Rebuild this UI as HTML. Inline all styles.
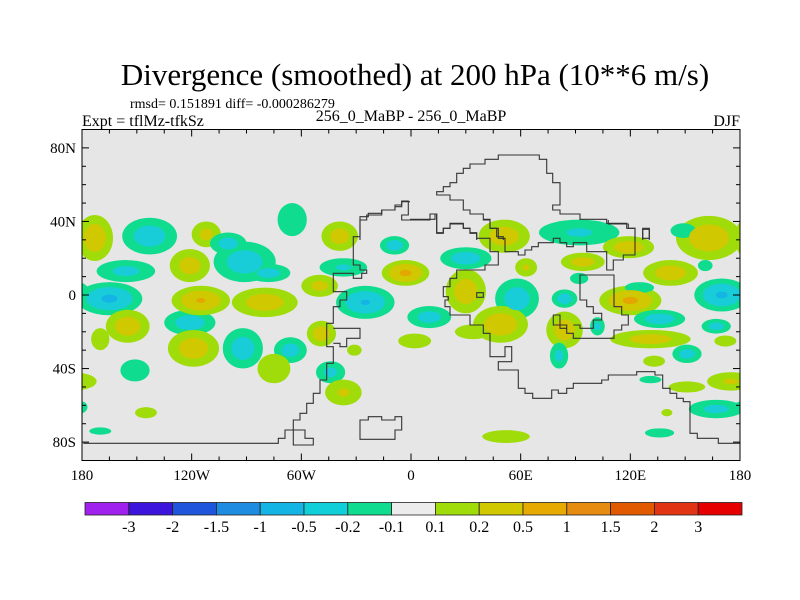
<!DOCTYPE html>
<html><head><meta charset="utf-8">
<style>
html,body{margin:0;padding:0;background:#fff;}
svg{display:block;font-family:"Liberation Serif",serif;}
</style></head>
<body>
<svg id="chart" width="800" height="600" viewBox="0 0 800 600">
<defs><clipPath id="plotclip"><rect x="82" y="129.5" width="658" height="331"/></clipPath></defs>
<text x="415" y="85" text-anchor="middle" font-size="31" fill="#000">Divergence (smoothed) at 200 hPa (10**6 m/s)</text>
<text x="130" y="108" font-size="14">rmsd= 0.151891 diff= -0.000286279</text>
<text x="82" y="126" font-size="16">Expt = tflMz-tfkSz</text>
<text x="411" y="121" text-anchor="middle" font-size="16">256_0_MaBP - 256_0_MaBP</text>
<text x="740" y="126" text-anchor="end" font-size="16">DJF</text>
<rect x="82" y="129.5" width="658" height="331" fill="#e6e6e6"/>
<g id="fills" clip-path="url(#plotclip)"></g>
<g id="coast" clip-path="url(#plotclip)" fill="none" stroke="#333" stroke-width="1.1"></g>
<rect x="82" y="129.5" width="658" height="331" fill="none" stroke="#000" stroke-width="1"/>
<g id="ticks" stroke="#000" stroke-width="1"></g>
<g id="labels" font-size="15"></g>
<g id="cbar"></g>
</svg>
<script>
// blob data: centre lon/lat, radius in degrees (0.1 contour), peak value
const blobLon  = [-173,-143,-112,-121,-91,-65,-156,-165,-121,-115,-80,-50,-155,-170,-119,-92,-66,-75,-49,-44,-37,-151,-145,-170,-39,-37,-25,-3,-9,2,-31,51,92,119,30,94,63,92,30,58,84,120,125,136,49,10,34,84,102,131,172,81,151,133,167,170,163,142,149,161,175,151,167,131,136,140,52,-180,-78,-100];
const blobLat  = [31,32,33,16,18,41,13,-2,-15,-3,-4,5,-17,-24,-29,-29,-30,-40,-21,-42,-53,-41,-64,-74,32,15,-4,12,27,-25,-30,32,34,26,20,18,15,9,2,-2,-2,-3,4,-13,-16,-12,-20,-19,-17,-24,-25,-33,-32,-36,-17,0,31,12,35,16,-47,-50,-62,-46,-75,-64,-77,-61,12,28];
const blobRLon = [10,15,8,11,17,8,16,18,14,16,18,10,12,5,14,11,9,9,8,8,10,8,6,6,10,13,16,13,8,9,4,14,22,14,14,12,6,5,11,12,7,17,8,14,15,12,10,10,4,22,6,5,8,6,8,15,18,15,7,4,13,10,15,6,8,3,13,3,12,10];
const blobRLat = [12.5,10,7,9,11,9,6,9,7,8,8,6,9,6,10,11,7,8,7,6,7,6,3,2,8,5,9,7,5,4,3,9,7,6,6,5,5,3,12,11,5,8,3,5,10,6,4,10,5,5,3,7,5,3,4,9,12,7,4,3,5,3,5,2,2.5,2,3.5,3,5,6];
const blobPeak = [0.45,-0.4,0.3,0.35,-0.4,-0.2,-0.3,-0.7,-0.4,0.6,0.4,0.3,0.4,0.15,0.4,-0.4,-0.35,0.18,0.4,-0.3,0.25,-0.2,0.15,-0.15,0.35,-0.25,-0.6,0.7,-0.4,0.15,0.15,0.4,-0.25,0.4,-0.4,0.35,0.25,-0.2,0.4,-0.4,-0.4,0.7,-0.2,-0.4,0.45,-0.35,0.15,0.4,-0.3,0.35,0.15,-0.3,-0.35,0.15,-0.35,-0.65,0.45,0.4,-0.2,-0.2,0.25,0.2,-0.3,-0.2,-0.2,0.15,0.2,-0.2,-0.35,-0.35];
// colour levels
const levelLabels = ["-3","-2","-1.5","-1","-0.5","-0.2","-0.1","0.1","0.2","0.5","1","1.5","2","3"];
const levelColors = ["#a020ee","#3c14dc","#1e55dc","#1e8ce0","#14b4e4","#10cfd8","#10dc90","#ececec","#a0dc0a","#d2c800","#e6aa00","#e68c10","#e25a00","#e03414","#e60000"];
const posThresh = [0.1,0.2,0.5,1];
const posColor = ["#a0dc0a","#d0c800","#e4a600","#e68c10"];
const negColor = ["#10dc90","#18cdd8","#14b4e4","#1e8ce0"];

const NS="http://www.w3.org/2000/svg";
const X0=82,X1=740,Y0=129.5,Y1=460.5;
const xs=lon=>X0+(lon+180)/360*(X1-X0);
const ys=lat=>Y0+(90-lat)/180*(Y1-Y0);
const pxLon=(X1-X0)/360, pxLat=(Y1-Y0)/180;
function mk(tag,attrs,parent){const e=document.createElementNS(NS,tag);for(const k in attrs)e.setAttribute(k,attrs[k]);parent.appendChild(e);return e;}

const fills=document.getElementById('fills');
for(let li=0;li<posThresh.length;li++){
  const t=posThresh[li];
  for(let i=0;i<blobLon.length;i++){
    const v=Math.abs(blobPeak[i]);
    if(v<=t) continue;
    const f=Math.pow(Math.log(v/t)/Math.log(v/0.1),0.8);
    const col=blobPeak[i]>0?posColor[li]:negColor[li];
    for(const sh of [-360,0,360]){
      const cx=xs(blobLon[i]+sh);
      if(cx<X0-100||cx>X1+100) continue;
      const e=mk('ellipse',{cx:cx,cy:ys(blobLat[i]),rx:blobRLon[i]*pxLon*f,ry:blobRLat[i]*pxLat*f,fill:col},fills);
      
      
    }
  }
}

// coastlines (traced in zoomed coordinates: orig = ox + zx/3, oy + zy/3)
const coast=document.getElementById('coast');
function line(ox,oy,pts,closed){
  const a=pts.split(/\s+/).map(p=>{const [x,y]=p.split(',').map(Number);return (ox+x/3).toFixed(1)+','+(oy+y/3).toFixed(1);});
  const e=mk(closed?'polygon':'polyline',{points:a.join(' ')},coast);
  
  
}
line(80,200,"990,5 965,5 965,20 945,20 945,30 905,30 905,40 865,40 865,50 840,50 840,110 820,110 820,195 840,195 840,210 860,210 860,220 845,220 845,235 820,235 820,220 760,220 760,275 800,275 800,300 780,300 780,320 760,320 760,370 740,370 740,440 760,440 760,490 740,490 740,540 720,540 720,580 700,580 700,610 680,610 680,640 660,640 660,660 640,660 640,690 615,690 615,715 595,715 595,730 10,730");
line(80,200,"760,385 840,385 840,415 800,415 800,440 780,440 780,430 760,430",false);
line(80,200,"615,690 675,690 675,715 700,715 700,735 640,735 640,690",false);
line(80,200,"840,660 865,660 865,650 905,650 905,660 945,660 945,650 965,650 965,690 945,690 945,718 840,718",true);
line(330,140,"90,300 90,240 110,240 110,225 155,225 155,210 195,210 195,195 215,195 215,183 235,183 235,225 215,225 215,240 300,240 300,222 320,222 320,278 340,278 340,265 360,265 360,250 400,250 400,265 420,265 420,278 440,278 440,300");
line(330,140,"520,300 520,290 500,290 500,265 480,265 480,240 460,240 460,222 420,222 420,210 400,210 400,180 360,180 360,165 320,165 320,155 340,155 340,140 360,140 360,128 380,128 380,100 400,100 400,85 420,85 420,72 465,72 465,58 505,58 505,45 628,45 628,58 650,58 650,100 668,100 668,128 690,128 690,195 668,195 668,210 690,210 690,222 750,222 750,238 830,238 830,250 890,250 890,265 915,265 915,300");
line(330,140,"938,300 938,265 958,265 958,300",false);
line(410,200,"0,58 75,58 75,42 80,42 80,100 100,100 100,85 120,85 120,72 160,72 160,85 180,85 180,100 200,100 200,115 240,115 240,155 265,155 265,195 225,195 225,210 140,210 140,235 120,235 120,260 100,260 100,290 115,290 115,300 105,300 105,320 120,320 120,345 180,345 180,375 220,375 220,400 240,400 240,470 285,470 285,440 305,440 305,485 265,485 265,510 325,510 325,565 345,565 345,580 368,580 368,595 425,595 425,570 445,570 445,580 470,580 470,565 490,565 490,550 575,550 575,540 595,540 595,525 680,525 680,515 735,515 735,525 758,525 758,565 780,565 780,580 800,580 800,595 820,595 820,605 840,605 840,700 862,700 862,715 925,715 925,730 999,730");
line(410,200,"220,58 240,58 240,85 265,85 265,115 285,115 285,155 325,155 325,165 345,165 345,150 365,150 365,140 385,140 385,128 430,128 430,115 450,115 450,128 470,128 470,140 490,140 490,128 530,128 530,155 590,155 590,210 610,210 610,180 640,180 640,165 675,165 675,85 655,85 655,72 595,72 595,60",false);
line(410,200,"510,240 510,225 612,225 612,320 635,320 635,345 655,345 655,375 635,375 635,390 612,390 612,415 490,415 490,400 470,400 470,375 450,375 450,345 430,345 430,375 450,375 450,385 470,385 470,400",false);
line(410,200,"510,240 510,300 530,300 530,320 550,320 550,340 575,340 575,360 550,360 550,385 510,385 510,375 490,375",false);
line(410,200,"698,88 718,88 718,115 698,115",true);
line(410,200,"200,278 220,278 220,292 200,292",true);

// ticks and labels
const ticks=document.getElementById('ticks'), labels=document.getElementById('labels');
const lonTicks=[-180,-120,-60,0,60,120,180];
const lonLabels=["180","120W","60W","0","60E","120E","180"];
const latTicks=[80,40,0,-40,-80];
const latLabels=["80N","40N","0","40S","80S"];
for(let lon=-180;lon<=180;lon+=15){
  const maj=lon%60===0, L=maj?7:4, x=xs(lon);
  mk('line',{x1:x,y1:Y0,x2:x,y2:Y0+L},ticks);
  mk('line',{x1:x,y1:Y1,x2:x,y2:Y1-L},ticks);
}
for(let lat=-90;lat<=90;lat+=10){
  const maj=lat%40===0, L=maj?7:4, y=ys(lat);
  mk('line',{x1:X0,y1:y,x2:X0+L,y2:y},ticks);
  mk('line',{x1:X1,y1:y,x2:X1-L,y2:y},ticks);
}
lonTicks.forEach((v,i)=>{const t=mk('text',{x:xs(v),y:480,'text-anchor':'middle'},labels);t.textContent=lonLabels[i];

});
latTicks.forEach((v,i)=>{const t=mk('text',{x:76,y:ys(v)+5,'text-anchor':'end'},labels);t.textContent=latLabels[i];

});

// colorbar
const cbar=document.getElementById('cbar');
const CB0=85,CBW=43.8,CBY=502.5,CBH=12.5;
levelColors.forEach((c,i)=>{const r=mk('rect',{x:CB0+i*CBW,y:CBY,width:CBW,height:CBH,fill:c,stroke:'#222','stroke-width':0.8},cbar);

});
levelLabels.forEach((s,i)=>{const t=mk('text',{x:CB0+(i+1)*CBW,y:532,'text-anchor':'middle','font-size':16},cbar);t.textContent=s;

});
</script>
</body></html>
